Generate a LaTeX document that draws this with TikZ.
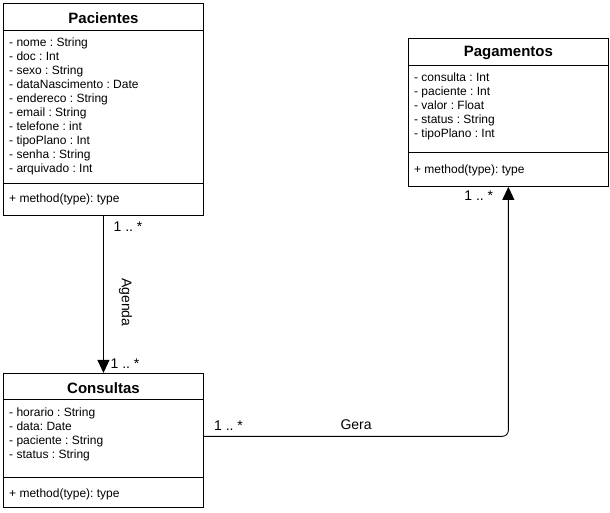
\documentclass[tikz,border=0pt]{standalone}
\usepackage{fontspec}
\setmainfont{Liberation Sans}
\usetikzlibrary{positioning, arrows.meta, calc}
\frenchspacing

\begin{document}
\begin{tikzpicture}[
    x=1pt, y=1pt,
    >={Triangle[length=13pt, width=12pt]},
    umlbox/.style={
        draw,
        line width=0.9pt,
        minimum width=200pt,
        inner sep=0pt,
    },
    header/.style={
        font=\fontsize{15}{18}\selectfont\bfseries,
    },
    member/.style={
        font=\fontsize{12}{14}\selectfont,
        anchor=base west,
        inner sep=0pt,
    },
    conn label/.style={
        font=\fontsize{14}{17}\selectfont,
        inner sep=0pt,
    },
    divider/.style={
        line width=0.9pt,
    },
]
\useasboundingbox (0,0) rectangle (610,512);

% --- Pacientes (top left) ---
\node[umlbox, minimum height=212pt, anchor=north west] (pac) at (3,509) {};
\node[header] (pac-name) at ([yshift=-15pt]pac.north) {Pacientes};
\draw[divider] ([yshift=-27pt]pac.north west) -- ([yshift=-27pt]pac.north east);
\draw[divider] ([yshift=-180pt]pac.north west) -- ([yshift=-180pt]pac.north east);
\foreach \t [count=\i from 0] in {- nome : String, - doc : Int, - sexo : String,
    - dataNascimento : Date, - endereco : String, - email : String,
    - telefone : int, - tipoPlano : Int, - senha : String, - arquivado : Int} {
    \node[member] (pac-a\i) at ([shift={(6,-43.5-14*\i)}]pac.north west) {\t};
}
\node[member] (pac-m) at ([shift={(6,-199.5)}]pac.north west) {+ method(type): type};

% --- Consultas (bottom left) ---
\node[umlbox, minimum height=134pt, below=157pt of pac] (con) {};
\node[header] (con-name) at ([yshift=-15pt]con.north) {Consultas};
\draw[divider] ([yshift=-26.5pt]con.north west) -- ([yshift=-26.5pt]con.north east);
\draw[divider] ([yshift=-105pt]con.north west) -- ([yshift=-105pt]con.north east);
\foreach \t [count=\i from 0] in {- horario : String, - data: Date,
    - paciente : String, - status : String} {
    \node[member] (con-a\i) at ([shift={(6,-43.5-14*\i)}]con.north west) {\t};
}
\node[member] (con-m) at ([shift={(6,-125)}]con.north west) {+ method(type): type};

% --- Pagamentos (right) ---
\node[umlbox, minimum height=148pt, anchor=north west] (pag)
    at ([shift={(204,-35)}]pac.north east) {};
\node[header] (pag-name) at ([yshift=-15pt]pag.north) {Pagamentos};
\draw[divider] ([yshift=-27pt]pag.north west) -- ([yshift=-27pt]pag.north east);
\draw[divider] ([yshift=-114pt]pag.north west) -- ([yshift=-114pt]pag.north east);
\foreach \t [count=\i from 0] in {- consulta : Int, - paciente : Int, - valor : Float,
    - status : String, - tipoPlano : Int} {
    \node[member] (pag-a\i) at ([shift={(6,-43.5-14*\i)}]pag.north west) {\t};
}
\node[member] (pag-m) at ([shift={(6,-136)}]pag.north west) {+ method(type): type};

% --- Agenda ---
\draw[->, line width=0.9pt] (pac.south) -- (con.north)
    node[conn label, pos=0.55, xshift=22pt, rotate=-90] (agenda) {Agenda};
\node[conn label, anchor=west] (pac-mult) at ([shift={(10,-11)}]pac.south) {1 .. *};
\node[conn label, anchor=west] (con-mult) at ([shift={(7,9.5)}]con.north) {1 .. *};

% --- Gera ---
\coordinate (gera-start) at ([yshift=4pt]con.east);
\draw[->, line width=0.9pt, rounded corners=6pt] (gera-start) -| (pag.south)
    node[conn label, pos=0.25, above=6.5pt] (gera) {Gera};
\node[conn label, anchor=west] (con-mult2) at ([shift={(10,11)}]gera-start) {1 .. *};
\node[conn label, anchor=east] (pag-mult) at ([shift={(-15,-9)}]pag.south) {1 .. *};

\end{tikzpicture}
\end{document}
